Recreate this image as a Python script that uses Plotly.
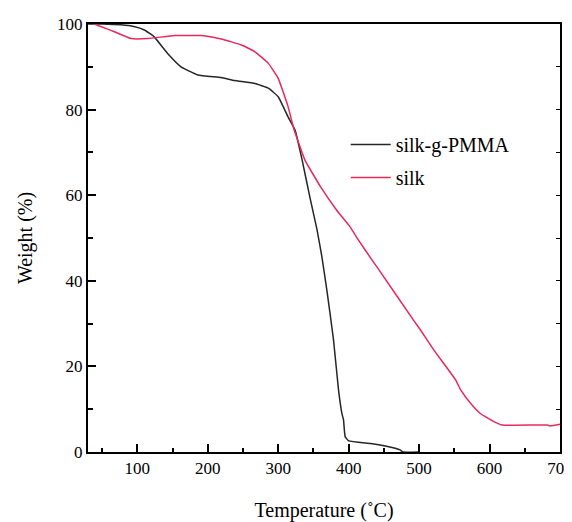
import plotly.graph_objects as go

# silk-g-PMMA (black)
t_pmma = [30, 50, 77, 95, 110, 124, 143, 162, 186, 219, 238, 267, 286, 300, 314, 324,
          334, 345, 355, 362, 369, 378.5, 385.6, 390.4, 392.7, 395, 400, 431, 452, 473, 477, 500]
w_pmma = [100, 100, 99.8, 99.4, 98.6, 97, 93.1, 90, 88.1, 87.5, 86.8, 86.1, 85, 83, 78.3, 75.2,
          68.2, 59.5, 52.0, 45.6, 37.9, 26.2, 14.5, 9.0, 7.5, 3.6, 2.6, 2.0, 1.4, 0.5, 0, 0]

# silk (red)
t_silk = [39, 50, 67.5, 91, 115, 153, 191, 219, 248, 267, 286, 300, 314, 322, 338, 360,
          383, 402, 414, 433, 445, 492, 502, 521, 552, 559, 573, 587, 606, 618, 682, 686, 701]
w_silk = [100, 99.3, 98.2, 96.6, 96.6, 97.3, 97.3, 96.5, 95.1, 93.5, 90.8, 87.3, 80.7, 75.6, 68.2, 62,
          56.5, 52.6, 49.5, 44.9, 42.1, 30.8, 28.5, 23.8, 16.8, 14.5, 11.4, 9.0, 7.1, 6.3, 6.3, 6.1, 6.5]

series_names = ["silk-g-PMMA", "silk"]
x_ticks = [100, 200, 300, 400, 500, 600, 700]
y_ticks = [0, 20, 40, 60, 80, 100]

FONT = "Liberation Serif, Times New Roman, DejaVu Serif, serif"

fig = go.Figure()
fig.add_trace(go.Scatter(x=t_pmma, y=w_pmma, mode="lines", name=series_names[0], legendgroup="a",
                         line=dict(color="#262626", width=1.5, shape="spline", smoothing=0.35)))
fig.add_trace(go.Scatter(x=t_silk, y=w_silk, mode="lines", name=series_names[1], legendgroup="b",
                         line=dict(color="#e8285c", width=1.5, shape="spline", smoothing=0.35)))
# invisible trace to activate right axis
fig.add_trace(go.Scatter(x=[30], y=[0], yaxis="y2", mode="markers",
                         marker=dict(opacity=0), showlegend=False, hoverinfo="skip"))

fig.update_layout(
    width=572, height=514,
    margin=dict(l=80, r=20, t=16, b=70),
    paper_bgcolor="white", plot_bgcolor="white",
    font=dict(family=FONT, color="black"),
    showlegend=True,
    legend=dict(x=0.546, y=0.764, xanchor="left", yanchor="top",
                font=dict(family=FONT, size=20, color="black"),
                bgcolor="rgba(0,0,0,0)", traceorder="grouped", tracegroupgap=4, itemwidth=40),
    xaxis=dict(range=[30, 700], tickvals=x_ticks, ticks="inside", ticklen=8, tickwidth=1.5,
               tickcolor="black", showline=True, linecolor="black", linewidth=2, mirror=True,
               showgrid=False, zeroline=False, automargin=False,
               minor=dict(dtick=50, tick0=0, ticks="inside", ticklen=4, tickwidth=1.5, tickcolor="black"),
               tickfont=dict(family=FONT, size=17),
               title=dict(text="Temperature (˚C)", font=dict(family=FONT, size=20), standoff=26)),
    yaxis=dict(range=[0, 100], tickvals=y_ticks, ticks="inside", ticklen=8, tickwidth=1.5,
               tickcolor="black", showline=True, linecolor="black", linewidth=2, mirror=True,
               showgrid=False, zeroline=False, automargin=False,
               minor=dict(dtick=10, tick0=0, ticks="inside", ticklen=5, tickwidth=1.5, tickcolor="black"),
               tickfont=dict(family=FONT, size=17),
               title=dict(text="Weight (%)", font=dict(family=FONT, size=20), standoff=19)),
    yaxis2=dict(range=[0, 100], overlaying="y", side="right", dtick=10, ticks="inside",
                ticklen=4, tickwidth=1, tickcolor="black", showticklabels=False, automargin=False,
                showgrid=False, zeroline=False, showline=False),
)

fig.write_html("out.html")
